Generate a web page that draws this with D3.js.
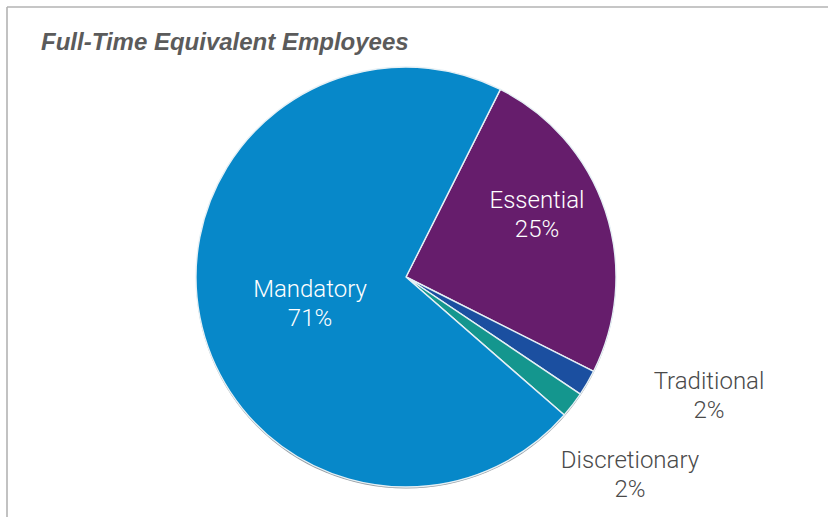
<!DOCTYPE html>
<html>
<head>
<meta charset="utf-8">
<script src="https://cdn.jsdelivr.net/npm/d3@7"></script>
<style>
  html, body { margin: 0; padding: 0; background: #fff; }
  svg { display: block; }
</style>
</head>
<body>
<svg id="chart" width="828" height="517"></svg>
<script>
// Share of full-time equivalent employees by service category
const categories = ["Essential", "Traditional", "Discretionary", "Mandatory"];
const values = [25, 2, 2, 71];
const colors = ["#661d6c", "#1b4fa0", "#14968e", "#0788c9"];

const width = 828, height = 517;
const cx = 406, cy = 277, radius = 210;
const startDeg = 26.7;

const svg = d3.select("#chart");

// frame lines along the top and left
svg.append("line").attr("x1", 7).attr("y1", 7).attr("x2", width).attr("y2", 7)
  .attr("stroke", "#b3b3b3").attr("stroke-width", 1.6);
svg.append("line").attr("x1", 7).attr("y1", 7).attr("x2", 7).attr("y2", height)
  .attr("stroke", "#b3b3b3").attr("stroke-width", 1.6);

svg.append("text")
  .attr("x", 41).attr("y", 50)
  .attr("font-family", "'Liberation Sans', Arial, sans-serif")
  .attr("font-size", 24).attr("font-weight", "bold").attr("font-style", "italic")
  .attr("fill", "#5b5b5b")
  .text("Full-Time Equivalent Employees");

const data = categories.map((c, i) => ({ name: c, value: values[i], color: colors[i] }));

const pie = d3.pie()
  .sort(null)
  .value(d => d.value)
  .startAngle(startDeg * Math.PI / 180)
  .endAngle(startDeg * Math.PI / 180 + 2 * Math.PI);

const arc = d3.arc().innerRadius(0).outerRadius(radius);

const g = svg.append("g").attr("transform", `translate(${cx},${cy})`);

// faint rim below the disc
g.append("circle").attr("cx", 0).attr("cy", 1.6).attr("r", radius)
  .attr("fill", "#3d4a55").attr("opacity", 0.55);

g.selectAll("path.slice")
  .data(pie(data))
  .join("path")
  .attr("class", "slice")
  .attr("d", arc)
  .attr("fill", d => d.data.color)
  .attr("stroke", "#e6f0f5")
  .attr("stroke-width", 1.4)
  .attr("stroke-linejoin", "round");

// label anchors (relative to pie centre) and text colour per category
const labelLayout = {
  "Essential":     { x: 131, y: -63, fill: "#ffffff" },
  "Mandatory":     { x: -96, y: 26,  fill: "#ffffff" },
  "Traditional":   { x: 303, y: 118, fill: "#4a4a4a" },
  "Discretionary": { x: 224, y: 197, fill: "#4a4a4a" }
};

const labels = g.selectAll("g.label")
  .data(pie(data))
  .join("g")
  .attr("class", "label")
  .attr("transform", d => `translate(${labelLayout[d.data.name].x},${labelLayout[d.data.name].y})`)
  .attr("font-family", "Roboto, 'Liberation Sans', sans-serif")
  .attr("font-weight", 300)
  .attr("font-size", 24)
  .attr("text-anchor", "middle")
  .attr("fill", d => labelLayout[d.data.name].fill);

labels.append("text").attr("y", -6).text(d => d.data.name);
labels.append("text").attr("y", 23).text(d => d.data.value + "%");
</script>
</body>
</html>
